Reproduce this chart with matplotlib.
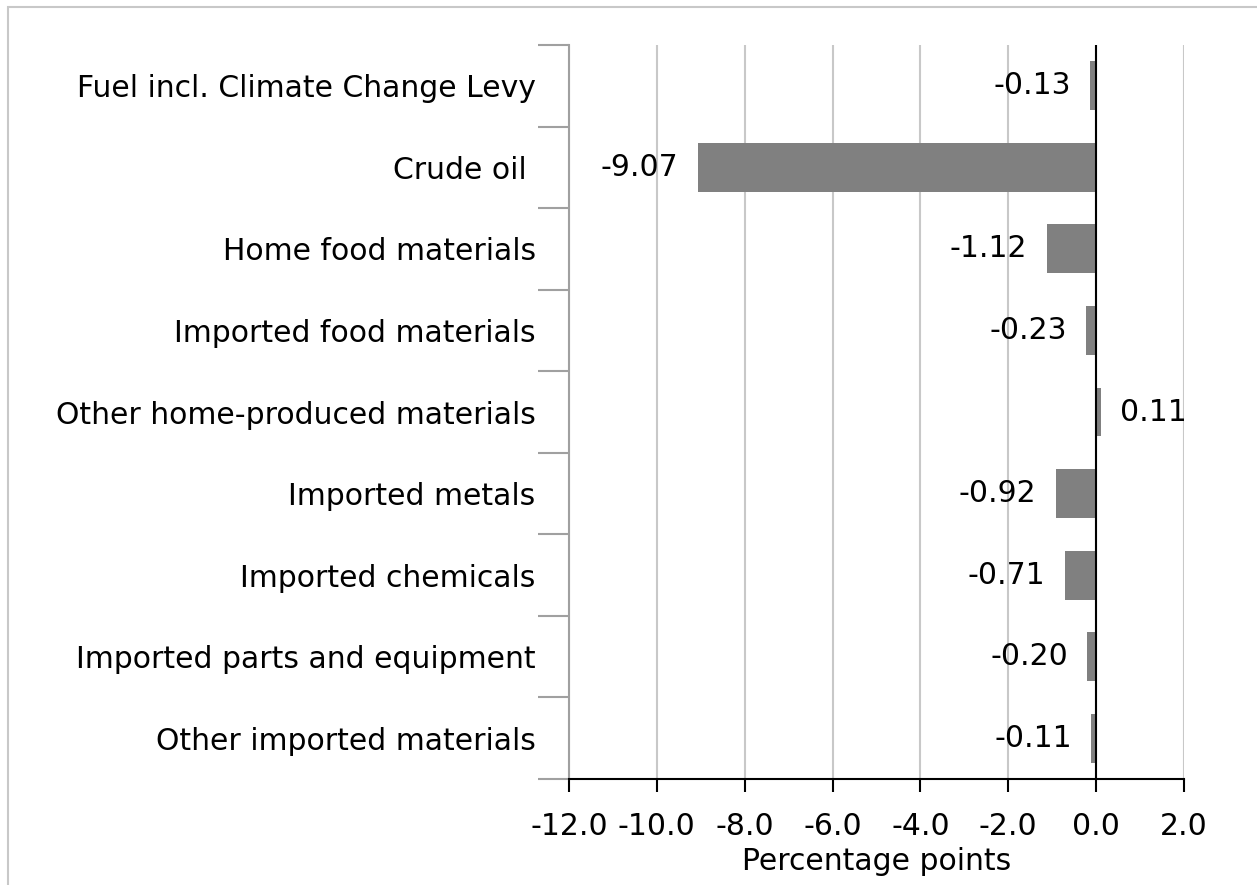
import matplotlib
matplotlib.use("Agg")
import matplotlib.pyplot as plt
from matplotlib.patches import Rectangle
from matplotlib.ticker import FixedLocator

categories = [
    "Fuel incl. Climate Change Levy",
    "Crude oil ",
    "Home food materials",
    "Imported food materials",
    "Other home-produced materials",
    "Imported metals",
    "Imported chemicals",
    "Imported parts and equipment",
    "Other imported materials",
]
values = [-0.13, -9.07, -1.12, -0.23, 0.11, -0.92, -0.71, -0.20, -0.11]
value_labels = ["-0.13", "-9.07", "-1.12", "-0.23", "0.11", "-0.92", "-0.71", "-0.20", "-0.11"]
xticks = [-12, -10, -8, -6, -4, -2, 0, 2]
xtick_labels = ["-12.0", "-10.0", "-8.0", "-6.0", "-4.0", "-2.0", "0.0", "2.0"]

plt.rcParams['font.family'] = ['DejaVu Sans']
FS = 21.5

W, H = 1257, 885
fig = plt.figure(figsize=(W / 100, H / 100), dpi=100)
ax = fig.add_axes([569 / W, 1 - 779 / H, (1184 - 569) / W, (779 - 45) / H])

# Figure border (top and left visible)
fig.patches.append(Rectangle((8 / W, -0.1), 1.2, 1 - 7 / H + 0.1, transform=fig.transFigure,
                             fill=False, edgecolor="#c8c8c8", linewidth=1.5))

n = len(categories)
ypos = list(range(n))
ax.barh(ypos, values, height=0.6, color="#808080", zorder=3)
ax.set_ylim(n - 0.5, -0.5)
ax.set_xlim(-12, 2)

ax.set_xticks(xticks)
ax.set_xticklabels(xtick_labels, fontsize=FS)
ax.xaxis.grid(True, color="#c8c8c8", linewidth=1.5, zorder=0)
ax.axvline(0, color="black", linewidth=1.5, zorder=4)

ax.set_yticks(ypos)
ax.set_yticklabels(categories, fontsize=FS)
ax.tick_params(axis="y", length=0, pad=24)
ax.yaxis.set_minor_locator(FixedLocator([i - 0.5 for i in range(n + 1)]))
ax.tick_params(axis="y", which="minor", length=22, color="#a0a0a0", width=1.5)
ax.tick_params(axis="x", length=9, width=1.5, color="black", pad=15)

for s in ["top", "right"]:
    ax.spines[s].set_visible(False)
ax.spines["left"].set_color("#a0a0a0")
ax.spines["left"].set_linewidth(1.5)
ax.spines["bottom"].set_color("black")
ax.spines["bottom"].set_linewidth(1.5)

for y, v, lab in zip(ypos, values, value_labels):
    off = 14 if v >= 0 else -14
    ax.annotate(lab, (v, y), xytext=(off, 0), textcoords="offset points",
                ha="left" if v >= 0 else "right", va="center", fontsize=FS, zorder=5)

ax.set_xlabel("Percentage points", fontsize=FS, labelpad=4)

fig.savefig("out.png", dpi=100)
